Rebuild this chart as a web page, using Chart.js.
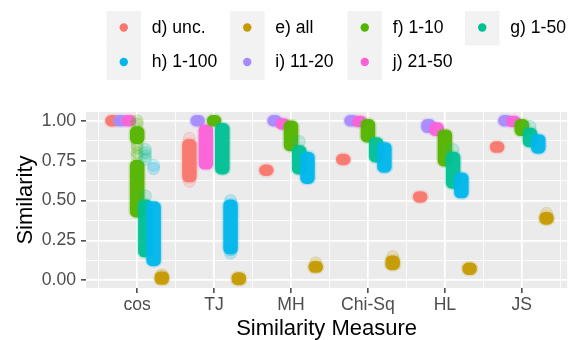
<!DOCTYPE html>
<html>
<head>
<meta charset="utf-8">
<script src="https://cdn.jsdelivr.net/npm/chart.js@4.4.1/dist/chart.umd.min.js"></script>
<style>
body { margin: 0; background: #ffffff; }
</style>
</head>
<body>
<canvas id="mycanvas" width="574" height="340"></canvas>
<script>
// x categories (similarity measures)
var categories = ['cos', 'TJ', 'MH', 'Chi-Sq', 'HL', 'JS'];

// series labels, legend order
var groupLabels = ['d) unc.', 'e) all', 'f) 1-10', 'g) 1-50', 'h) 1-100', 'i) 11-20', 'j) 21-50'];

// y tick labels
var yTickValues = [0, 0.25, 0.5, 0.75, 1];

// range of similarity values [low, high] of each point cloud, per category
var uncRanges  = [[[1.0, 1.0]], [[0.65, 0.85]], [[0.69, 0.69]], [[0.757, 0.757]], [[0.523, 0.523]], [[0.835, 0.835]]];
var allRanges  = [[[0.008, 0.02]], [[0.005, 0.015]], [[0.083, 0.085]], [[0.10, 0.12]], [[0.07, 0.075]], [[0.385, 0.392]]];
var r1_10      = [[[0.43, 0.72], [0.89, 0.93]], [[1.0, 1.0]], [[0.845, 0.965]], [[0.90, 0.975]], [[0.75, 0.91]], [[0.94, 0.975]]];
var r1_50      = [[[0.18, 0.47]], [[0.70, 0.95]], [[0.70, 0.81]], [[0.775, 0.86]], [[0.61, 0.77]], [[0.87, 0.92]]];
var r1_100     = [[[0.125, 0.46]], [[0.20, 0.47]], [[0.64, 0.77]], [[0.71, 0.83]], [[0.55, 0.64]], [[0.83, 0.88]]];
var r11_20     = [[[1.0, 1.0]], [[1.0, 1.0]], [[1.0, 1.0]], [[1.0, 1.0]], [[0.96, 0.975]], [[1.0, 1.0]]];
var r21_50     = [[[1.0, 1.0]], [[0.73, 0.94]], [[0.98, 0.98]], [[0.995, 0.995]], [[0.94, 0.955]], [[0.995, 0.995]]];

// isolated points [category index, similarity]
var uncStray  = [[1, 0.62], [1, 0.89]];
var allStray  = [[0, 0.035], [2, 0.11], [3, 0.15], [5, 0.42]];
var s1_10     = [[0, 1.0], [0, 0.98], [0, 0.85], [0, 0.83], [0, 0.80], [0, 0.78]];
var s1_50     = [[0, 0.82], [0, 0.80], [0, 0.78], [0, 0.76], [0, 0.53], [2, 0.87], [4, 0.82], [5, 0.965]];
var s1_100    = [[0, 0.72], [0, 0.70], [1, 0.17], [1, 0.19], [1, 0.50]];
var s11_20    = [];
var s21_50    = [];

var groupRanges = [uncRanges, allRanges, r1_10, r1_50, r1_100, r11_20, r21_50];
var groupStrays = [uncStray, allStray, s1_10, s1_50, s1_100, s11_20, s21_50];
var groupColors = ['#F8766D', '#C49A00', '#53B400', '#00C094', '#00B6EB', '#A58AFF', '#FB61D7'];

// side-by-side (dodge) order inside each category
var dodgeOrder = [0, 5, 6, 2, 3, 4, 1];
var dodgeStep = 0.107;
var jitterHalf = 0.02;

function rgba(hex, a) {
	var n = parseInt(hex.slice(1), 16);
	return 'rgba(' + (n >> 16) + ',' + ((n >> 8) & 255) + ',' + (n & 255) + ',' + a + ')';
}

var datasets = [];
var drawIndex = 0;
dodgeOrder.forEach(function(g, pos) {
	var offset = (pos - 3) * dodgeStep;
	var path = [];
	groupRanges[g].forEach(function(segs, c) {
		segs.forEach(function(s) {
			var x = c + 1 + offset;
			path.push({x: x - jitterHalf, y: s[0]});
			path.push({x: x - jitterHalf, y: s[1]});
			path.push({x: x + jitterHalf, y: s[1]});
			path.push({x: x + jitterHalf, y: s[0]});
			path.push({x: x - jitterHalf, y: s[0]});
			path.push({x: x, y: null});
		});
	});
	var strays = groupStrays[g].map(function(p) {
		return {x: p[0] + 1 + offset, y: p[1]};
	});
	datasets.push({
		label: groupLabels[g] + ' halo',
		data: path,
		borderColor: rgba(groupColors[g], 0.2),
		borderWidth: 14.5,
		borderCapStyle: 'round',
		borderJoinStyle: 'round',
		pointRadius: 0,
		spanGaps: false,
		order: 1000 - (drawIndex++)
	});
	datasets.push({
		label: groupLabels[g] + ' stray',
		data: strays,
		showLine: false,
		pointRadius: 6,
		pointBackgroundColor: rgba(groupColors[g], 0.2),
		pointBorderColor: rgba(groupColors[g], 0.28),
		pointBorderWidth: 0.8,
		order: 1000 - (drawIndex++)
	});
	datasets.push({
		label: groupLabels[g],
		data: path,
		borderColor: rgba(groupColors[g], 0.95),
		borderWidth: 11.5,
		borderCapStyle: 'round',
		borderJoinStyle: 'round',
		pointRadius: 0,
		spanGaps: false,
		order: 1000 - (drawIndex++)
	});
});

function isWhole(v) { return Math.abs(v - Math.round(v)) < 1e-9; }
function isQuarter(v) { return isWhole(v * 4); }

var panelBg = {
	id: 'panelBg',
	beforeDraw: function(chart) {
		var a = chart.chartArea, ctx = chart.ctx;
		ctx.save();
		ctx.fillStyle = '#EBEBEB';
		ctx.fillRect(a.left, a.top, a.right - a.left, a.bottom - a.top);
		ctx.restore();
	}
};

var legendKeys = {
	id: 'legendKeys',
	afterDraw: function(chart) {
		var ctx = chart.ctx;
		var colLeft = [106.5, 230, 347.5, 465];
		ctx.save();
		groupLabels.forEach(function(label, k) {
			var kx = colLeft[k % 4], ky = 11 + Math.floor(k / 4) * 34.5;
			ctx.fillStyle = '#F2F2F2';
			ctx.fillRect(kx, ky, 34.5, 34.5);
			ctx.beginPath();
			ctx.arc(kx + 17.25, ky + 16.5, 4.2, 0, 2 * Math.PI);
			ctx.fillStyle = groupColors[k];
			ctx.fill();
			ctx.fillStyle = '#000000';
			ctx.font = '17.6px "Liberation Sans", Arial, sans-serif';
			ctx.textBaseline = 'middle';
			ctx.textAlign = 'left';
			ctx.fillText(label, kx + 45.3, ky + 17);
		});
		ctx.restore();
	}
};

Chart.defaults.font.family = '"Liberation Sans", Arial, sans-serif';

var ctx = document.getElementById('mycanvas');
var chart = new Chart(ctx, {
	type: 'line',
	data: { datasets: datasets },
	plugins: [panelBg, legendKeys],
	options: {
		responsive: false,
		animation: false,
		events: [],
		devicePixelRatio: 1,
		layout: { padding: { top: 112, right: 5, bottom: 0, left: 0 } },
		plugins: { legend: { display: false }, tooltip: { enabled: false } },
		scales: {
			x: {
				type: 'linear',
				min: 0.335,
				max: 6.59,
				afterBuildTicks: function(scale) {
					var t = [];
					for (var v = 0.5; v <= 6.5; v += 0.5) t.push({ value: v });
					scale.ticks = t;
				},
				afterFit: function(scale) { scale.height = 52; },
				border: { display: false },
				grid: {
					color: '#FFFFFF',
					lineWidth: function(c) { return c.tick && isWhole(c.tick.value) ? 1.7 : 0.8; },
					tickLength: 5,
					tickWidth: 1.4,
					tickColor: function(c) { return c.tick && isWhole(c.tick.value) ? '#333333' : 'rgba(0,0,0,0)'; }
				},
				ticks: {
					autoSkip: false,
					maxRotation: 0,
					padding: 2,
					color: '#4D4D4D',
					font: { size: 17.6, lineHeight: 1.2 },
					callback: function(v) { return isWhole(v) ? categories[Math.round(v) - 1] : ''; }
				},
				title: {
					display: true,
					text: 'Similarity Measure',
					color: '#000000',
					font: { size: 22, lineHeight: 1 },
					padding: { top: 0, bottom: 0 }
				}
			},
			y: {
				type: 'linear',
				min: -0.048,
				max: 1.055,
				afterBuildTicks: function(scale) {
					var t = [];
					for (var v = 0; v <= 1.0001; v += 0.125) t.push({ value: v });
					scale.ticks = t;
				},
				afterFit: function(scale) { scale.width = 86; },
				border: { display: false },
				grid: {
					color: '#FFFFFF',
					lineWidth: function(c) { return c.tick && isQuarter(c.tick.value) ? 1.7 : 0.8; },
					tickLength: 5,
					tickWidth: 1.4,
					tickColor: function(c) { return c.tick && isQuarter(c.tick.value) ? '#333333' : 'rgba(0,0,0,0)'; }
				},
				ticks: {
					autoSkip: false,
					padding: 5,
					color: '#4D4D4D',
					font: { size: 17.6, lineHeight: 1.2 },
					callback: function(v) {
						for (var i = 0; i < yTickValues.length; i++) {
							if (Math.abs(v - yTickValues[i]) < 1e-9) return v.toFixed(2);
						}
						return '';
					}
				},
				title: {
					display: true,
					text: 'Similarity',
					color: '#000000',
					font: { size: 22, lineHeight: 1 },
					padding: { top: 14.5, bottom: 0 }
				}
			}
		}
	}
});
</script>
</body>
</html>
